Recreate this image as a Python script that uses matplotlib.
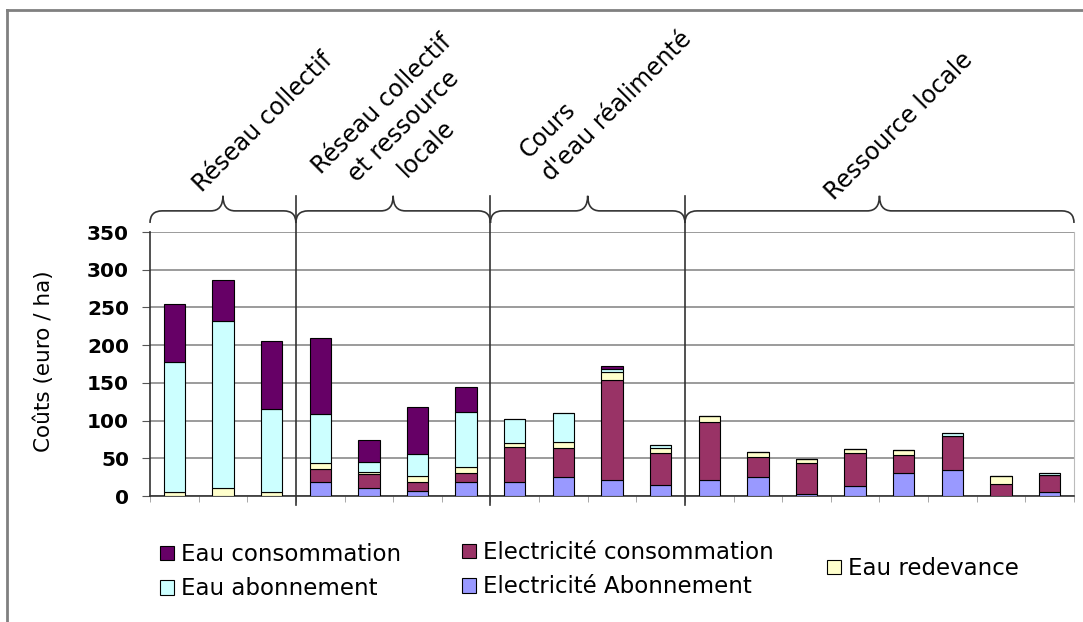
import numpy as np
import matplotlib
matplotlib.use('Agg')
import matplotlib.pyplot as plt
import matplotlib.patches as mpatches
from matplotlib.path import Path
from matplotlib.lines import Line2D

# stacked costs per site (euro / ha), bottom -> top
elec_abon = [0, 0, 0, 19, 11, 7, 19, 19, 25, 21, 15, 21, 25, 3, 13, 30, 35, 0, 5]
elec_conso = [0, 0, 0, 17, 18, 12, 12, 46, 38, 133, 42, 77, 27, 41, 44, 24, 44, 16, 23]
eau_redev = [5, 10, 5, 8, 3, 7, 8, 5, 8, 11, 6, 8, 6, 5, 5, 7, 0, 11, 0]
eau_abon = [172, 222, 111, 65, 13, 30, 73, 32, 39, 4, 4, 0, 0, 0, 0, 0, 4, 0, 3]
eau_conso = [78, 55, 89, 101, 29, 62, 33, 0, 0, 3, 0, 0, 0, 0, 0, 0, 0, 0, 0]

groups = ['Réseau collectif', 'Réseau collectif\net ressource\nlocale',
          "Cours\nd'eau réalimenté", 'Ressource locale']
group_sizes = [3, 4, 4, 8]

series = [
    ('Electricité Abonnement', elec_abon, '#9999ff'),
    ('Electricité consommation', elec_conso, '#993366'),
    ('Eau redevance', eau_redev, '#ffffcc'),
    ('Eau abonnement', eau_abon, '#ccffff'),
    ('Eau consommation', eau_conso, '#660066'),
]

W, H = 1083, 622
fig = plt.figure(figsize=(W / 100, H / 100), dpi=100)
ax = fig.add_axes([150 / W, 1 - 496 / H, (1074 - 150) / W, (496 - 232) / H])

x = np.arange(len(elec_abon))
bottom = np.zeros(len(x))
handles = {}
for name, vals, col in series:
    ax.bar(x, vals, 0.44, bottom=bottom, color=col, edgecolor='black', linewidth=0.8, zorder=3)
    handles[name] = mpatches.Patch(facecolor=col, edgecolor='black', linewidth=0.8)
    bottom += np.array(vals)

ax.set_xlim(-0.5, len(x) - 0.5)
ax.set_ylim(0, 350)
ax.set_yticks(range(0, 351, 50))
ax.yaxis.grid(True, color='#808080', linewidth=1.1, zorder=0)
ax.tick_params(axis='y', direction='out', length=6, color='#555555', pad=9, labelsize=14.5)
for lbl in ax.get_yticklabels():
    lbl.set_fontweight('bold')
ax.set_xticks([])
ax.set_xticks(np.arange(-0.5, len(x), 1), minor=True)
ax.tick_params(axis='x', which='minor', direction='out', length=4, color='#999999', labelbottom=False)
ax.set_ylabel('Coûts (euro / ha)', fontsize=15.5)
ax.yaxis.set_label_coords(-96 / 924, 0.51)

ax.spines['top'].set_visible(False)
ax.spines['right'].set_color('#bbbbbb')
ax.spines['left'].set_color('#333333')
ax.spines['bottom'].set_color('#333333')
ax.spines['left'].set_linewidth(1.2)
ax.spines['bottom'].set_linewidth(1.2)

# group separators and braces above the plot
edges = np.concatenate([[0], np.cumsum(group_sizes)]) - 0.5
for e in edges[1:-1]:
    ax.plot([e, e], [-12, 398], color='#333333', linewidth=1.2, clip_on=False, zorder=4)

y_end, y_base, y_tip, r = 362, 378, 398, 0.25
for i in range(len(group_sizes)):
    x0, x1 = edges[i], edges[i + 1]
    xm = (x0 + x1) / 2
    verts = [(x0, y_end), (x0, y_base), (x0 + r, y_base),
             (xm - r, y_base), (xm, y_base), (xm, y_tip),
             (xm, y_base), (xm + r, y_base),
             (x1 - r, y_base), (x1, y_base), (x1, y_end)]
    codes = [Path.MOVETO, Path.CURVE3, Path.CURVE3,
             Path.LINETO, Path.CURVE3, Path.CURVE3,
             Path.CURVE3, Path.CURVE3,
             Path.LINETO, Path.CURVE3, Path.CURVE3]
    ax.add_patch(mpatches.PathPatch(Path(verts, codes), facecolor='none', edgecolor='#333333',
                                    linewidth=1.2, clip_on=False))

label_pos = [(1.83, 495, 'center'), (4.72, 490, 'center'), (8.87, 532, 'left'), (14.9, 490, 'center')]
for name, (lx, ly, al) in zip(groups, label_pos):
    ax.text(lx, ly, name, rotation=45, rotation_mode='anchor', ha='center', va='center',
            multialignment=al, fontsize=17, linespacing=1.4, clip_on=False)

# legend in three columns
cols = [
    (160, 543, ['Eau consommation', 'Eau abonnement']),
    (462, 541, ['Electricité consommation', 'Electricité Abonnement']),
    (827, 557, ['Eau redevance']),
]
for lx, ly, names in cols:
    fig.legend([handles[n] for n in names], names, loc='upper left',
               bbox_to_anchor=(lx / W, 1 - ly / H), frameon=False, fontsize=16.5,
               handlelength=0.6, handleheight=0.6, handletextpad=0.3,
               labelspacing=0.5, borderpad=0, borderaxespad=0)

# outer frame
fig.add_artist(Line2D([7 / W, 1], [1 - 10 / H, 1 - 10 / H], color='#808080', linewidth=2))
fig.add_artist(Line2D([7 / W, 7 / W], [0, 1 - 10 / H], color='#808080', linewidth=2))

fig.savefig('out.png', dpi=100)
plt.close(fig)
